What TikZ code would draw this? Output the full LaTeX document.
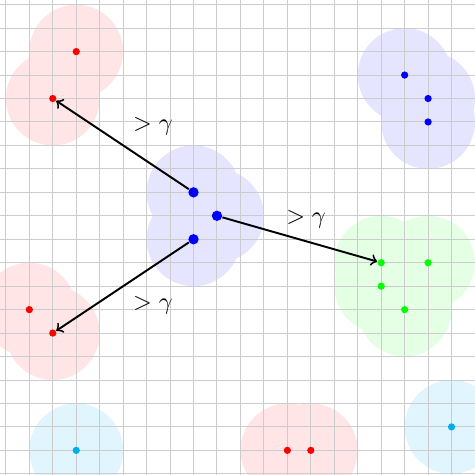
\documentclass[tikz,border=0pt]{standalone}
\usepackage{amsmath, amssymb}
\usepackage{tikz}
\usetikzlibrary{arrows}
\usepackage{xcolor}

\begin{document}
\begin{tikzpicture}[x=0.34cm, y=-0.34cm,
        dot/.style={circle, inner sep=0pt, minimum size=1.05mm},
        bigdot/.style={circle, inner sep=0pt, minimum size=1.5mm, fill=blue},
        gridline/.style={gray!40, line width=0.4pt},
        link/.style={->, thick}]
        \useasboundingbox (-0.25,-0.2) rectangle (20,20.05);
        \clip (-0.25,-0.2) rectangle (20,20.05);
        % zones round each point
        \foreach \p in {(3,2), (2,4), (1,13), (2,14), (12,19), (13,19)}
            \fill[red!10] \p circle (2);
        \foreach \p in {(8,8), (9,9), (8,10), (17,3), (18,4), (18,5)}
            \fill[blue!10] \p circle (2);
        \foreach \p in {(16,11), (18,11), (16,12), (17,13)}
            \fill[green!10] \p circle (2);
        \foreach \p in {(3,19), (19,18)}
            \fill[cyan!12] \p circle (2);
        % grid
        \foreach \i in {0, ..., 20} {
            \draw[gridline] (\i,-1) -- (\i,21);
            \draw[gridline] (-1,\i) -- (21,\i);
        }
        % points
        \node[dot, fill=red] (r1) at (3,2) {};
        \node[dot, fill=red] (r2) at (2,4) {};
        \node[dot, fill=red] (r3) at (1,13) {};
        \node[dot, fill=red] (r4) at (2,14) {};
        \node[dot, fill=red] (r5) at (12,19) {};
        \node[dot, fill=red] (r6) at (13,19) {};
        \node[bigdot] (b1) at (8,8) {};
        \node[bigdot] (b2) at (9,9) {};
        \node[bigdot] (b3) at (8,10) {};
        \node[dot, fill=blue] (b4) at (17,3) {};
        \node[dot, fill=blue] (b5) at (18,4) {};
        \node[dot, fill=blue] (b6) at (18,5) {};
        \node[dot, fill=green] (g1) at (16,11) {};
        \node[dot, fill=green] (g2) at (18,11) {};
        \node[dot, fill=green] (g3) at (16,12) {};
        \node[dot, fill=green] (g4) at (17,13) {};
        \node[dot, fill=cyan] (c1) at (3,19) {};
        \node[dot, fill=cyan] (c2) at (19,18) {};
        % distances
        \draw[link] (b1) -- (r2);
        \draw[link] (b3) -- (r4);
        \draw[link] (b2) -- (g1);
        \node (d1) at (6.27,5.2) {$>\gamma$};
        \node (d2) at (12.8,9.17) {$>\gamma$};
        \node (d3) at (6.27,12.8) {$>\gamma$};
    \end{tikzpicture}
\end{document}
